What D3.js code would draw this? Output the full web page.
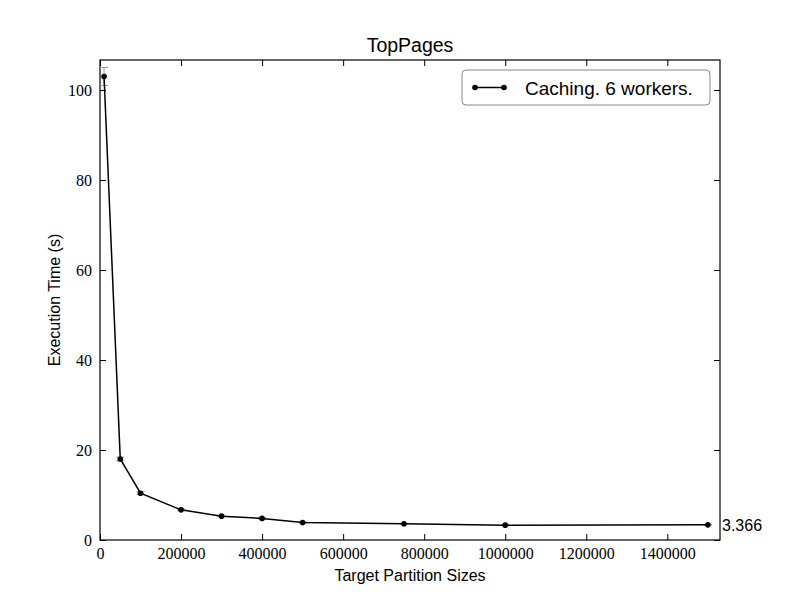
<!DOCTYPE html>
<html>
<head>
<meta charset="utf-8">
<script src="https://cdn.jsdelivr.net/npm/d3@7"></script>
<style>
  body { margin: 0; background: #fff; }
  svg { display: block; }
</style>
</head>
<body>
<svg width="800" height="600"></svg>
<script>
// Chart data
const sizes = [10000, 50000, 100000, 200000, 300000, 400000, 500000, 750000, 1000000, 1500000];
const times = [103.0, 18.0, 10.4, 6.7, 5.3, 4.8, 3.9, 3.6, 3.3, 3.366];
const errors = [2.0, 0.4, 0.3, 0.2, 0.15, 0.15, 0.1, 0.1, 0.1, 0.1];
const xTicks = [0, 200000, 400000, 600000, 800000, 1000000, 1200000, 1400000];
const yTicks = [0, 20, 40, 60, 80, 100];
const seriesName = 'Caching. 6 workers.';
const lastLabel = '3.366';

const svg = d3.select('svg');
const plotLeft = 100, plotRight = 720, plotTop = 60, plotBottom = 540;

const x = d3.scaleLinear().domain([0, 1530000]).range([plotLeft, plotRight]);
const y = d3.scaleLinear().domain([0, 106.67]).range([plotBottom, plotTop]);

const serif = "'Liberation Serif', 'DejaVu Serif', serif";
const sans = "'Liberation Sans', 'DejaVu Sans', sans-serif";

// ticks on all four sides, pointing in
function ticks(axis, transform) {
  const g = svg.append('g').attr('transform', transform).call(axis);
  g.select('.domain').remove();
  g.selectAll('line').attr('stroke', '#000');
  return g;
}

ticks(d3.axisBottom(x).tickValues(xTicks).tickSize(-6).tickPadding(8).tickFormat(d3.format('d')),
      `translate(0,${plotBottom})`)
  .selectAll('text').style('font-family', serif).style('font-size', '16px').attr('fill', '#000');
ticks(d3.axisTop(x).tickValues(xTicks).tickSize(-6).tickFormat(''), `translate(0,${plotTop})`);
ticks(d3.axisLeft(y).tickValues(yTicks).tickSize(-6).tickPadding(8),
      `translate(${plotLeft},0)`)
  .selectAll('text').style('font-family', serif).style('font-size', '16px').attr('fill', '#000');
ticks(d3.axisRight(y).tickValues(yTicks).tickSize(-6).tickFormat(''), `translate(${plotRight},0)`);

svg.append('rect')
  .attr('x', plotLeft).attr('y', plotTop)
  .attr('width', plotRight - plotLeft).attr('height', plotBottom - plotTop)
  .attr('fill', 'none').attr('stroke', '#000').attr('stroke-width', 1.2);

const pts = sizes.map((s, i) => ({s, t: times[i], e: errors[i]}));

// error bars
const eb = svg.append('g').attr('stroke', '#999').attr('stroke-width', 1);
pts.forEach(d => {
  eb.append('line')
    .attr('x1', x(d.s)).attr('x2', x(d.s))
    .attr('y1', y(d.t - d.e)).attr('y2', y(d.t + d.e));
  [d.t - d.e, d.t + d.e].forEach(v => {
    eb.append('line')
      .attr('x1', x(d.s) - 4).attr('x2', x(d.s) + 4)
      .attr('y1', y(v)).attr('y2', y(v));
  });
});

svg.append('path')
  .datum(pts)
  .attr('fill', 'none')
  .attr('stroke', '#000')
  .attr('stroke-width', 1.5)
  .attr('d', d3.line().x(d => x(d.s)).y(d => y(d.t)));

svg.append('g')
  .selectAll('circle')
  .data(pts)
  .join('circle')
  .attr('cx', d => x(d.s))
  .attr('cy', d => y(d.t))
  .attr('r', 2.8)
  .attr('fill', '#000');

// value of last point
svg.append('text')
  .attr('x', plotRight + 2)
  .attr('y', y(times[times.length - 1]) + 6)
  .style('font-family', sans).style('font-size', '16px')
  .text(lastLabel);

// title and axis labels
svg.append('text')
  .attr('x', (plotLeft + plotRight) / 2).attr('y', 52)
  .attr('text-anchor', 'middle')
  .style('font-family', sans).style('font-size', '19.5px')
  .text('TopPages');

svg.append('text')
  .attr('x', (plotLeft + plotRight) / 2).attr('y', 581)
  .attr('text-anchor', 'middle')
  .style('font-family', sans).style('font-size', '16px')
  .text('Target Partition Sizes');

svg.append('text')
  .attr('transform', `translate(60,${(plotTop + plotBottom) / 2}) rotate(-90)`)
  .attr('text-anchor', 'middle')
  .style('font-family', sans).style('font-size', '16px')
  .text('Execution Time (s)');

// legend
const lg = svg.append('g');
lg.append('rect')
  .attr('x', 462).attr('y', 70)
  .attr('width', 248).attr('height', 35)
  .attr('rx', 4)
  .attr('fill', '#fff').attr('stroke', '#888').attr('stroke-width', 1);
lg.append('line')
  .attr('x1', 475).attr('x2', 504).attr('y1', 87.5).attr('y2', 87.5)
  .attr('stroke', '#000').attr('stroke-width', 1.5);
[475, 504].forEach(cx => lg.append('circle').attr('cx', cx).attr('cy', 87.5).attr('r', 2.8));
lg.append('text')
  .attr('x', 525).attr('y', 94.5)
  .style('font-family', sans).style('font-size', '19px')
  .text(seriesName);
</script>
</body>
</html>
